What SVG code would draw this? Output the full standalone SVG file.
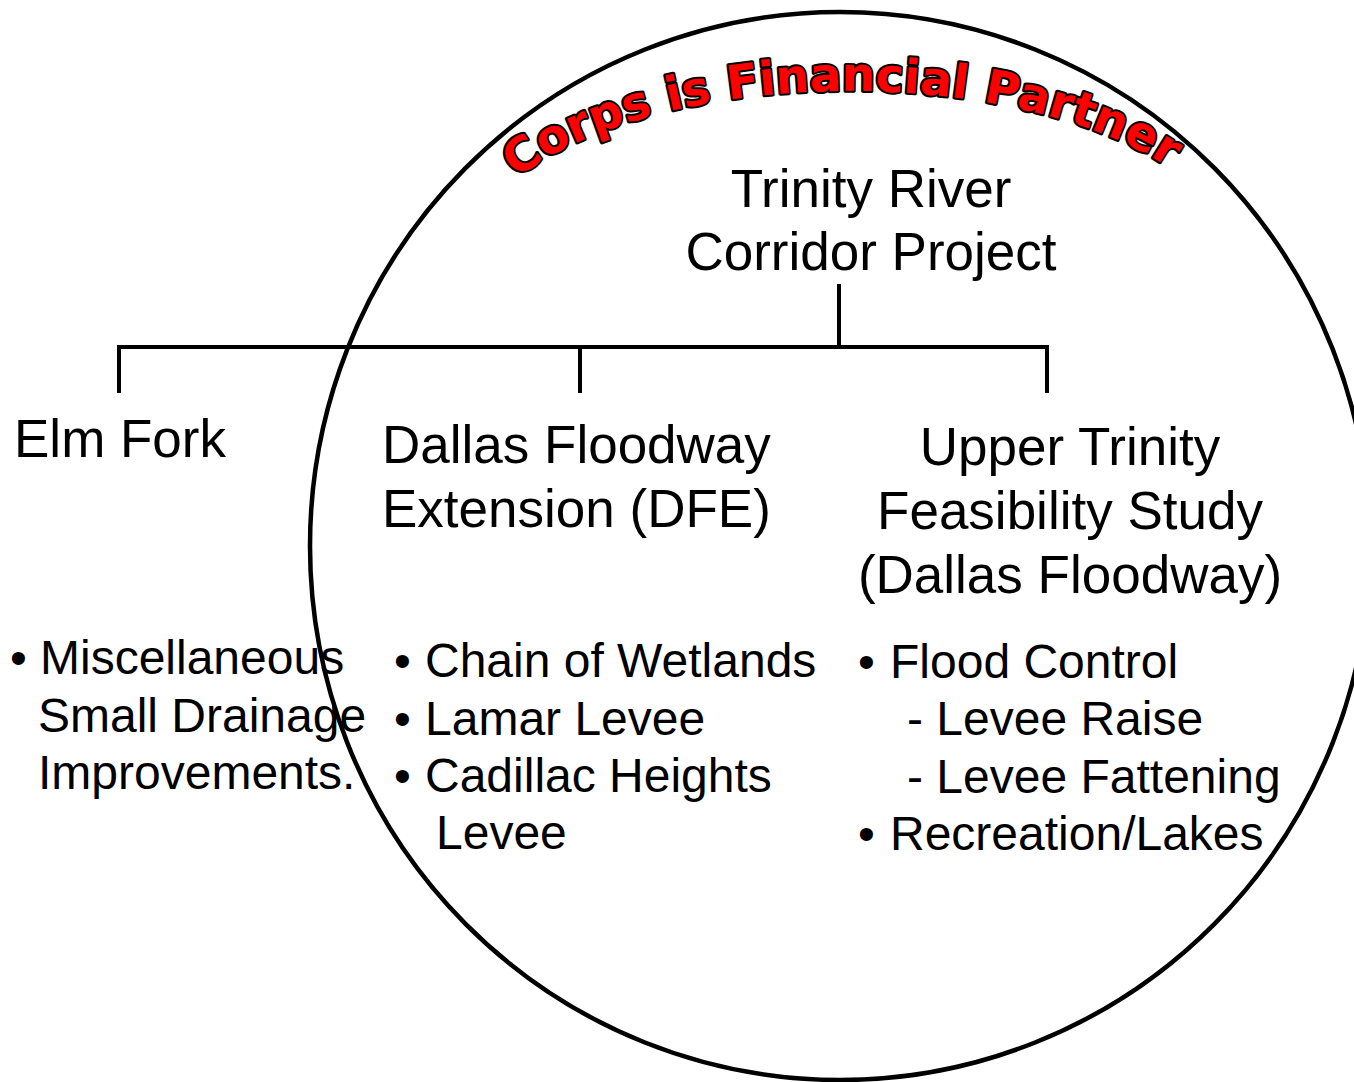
<svg xmlns="http://www.w3.org/2000/svg" xmlns:xlink="http://www.w3.org/1999/xlink" width="1354" height="1082" viewBox="0 0 1354 1082">
<style>
.t{font-family:"Liberation Sans",Arial,sans-serif;fill:#000}
.h{font-size:53px}
.b{font-size:48px}
.c{text-anchor:middle}
.ln{stroke:#000;stroke-width:4;fill:none}
.arch{font-family:"DejaVu Sans",sans-serif;font-weight:bold;font-size:47px;fill:#ff0000;stroke:#000;stroke-width:4;stroke-linejoin:round;paint-order:stroke fill}
</style>
<defs>
<path id="archPath" d="M 470,260 A 380 169 0 0 1 1230,260"/>
</defs>
<rect width="1354" height="1082" fill="#fff"/>
<ellipse cx="840" cy="546" rx="530" ry="534" fill="none" stroke="#000" stroke-width="4.5"/>
<g id="banner">
<text class="arch"><textPath xlink:href="#archPath" href="#archPath" startOffset="49%" text-anchor="middle">Corps is Financial Partner</textPath></text>
</g>
<g id="connectors">
<line class="ln" x1="839" y1="284" x2="839" y2="347"/>
<line class="ln" x1="117" y1="347" x2="1049" y2="347"/>
<line class="ln" x1="119" y1="345" x2="119" y2="393"/>
<line class="ln" x1="580" y1="345" x2="580" y2="393"/>
<line class="ln" x1="1047" y1="345" x2="1047" y2="393"/>
</g>
<g id="root">
<text class="t h c" x="871" y="207">Trinity River</text>
<text class="t h c" x="871" y="270">Corridor Project</text>
</g>
<g id="elm-fork">
<text class="t h" x="14" y="457">Elm Fork</text>
<text class="t b" x="10" y="674">•</text>
<text class="t b" x="40" y="674">Miscellaneous</text>
<text class="t b" x="38" y="732">Small Drainage</text>
<text class="t b" x="38" y="789">Improvements.</text>
</g>
<g id="dfe">
<text class="t h" x="382" y="463">Dallas Floodway</text>
<text class="t h" x="382" y="527">Extension (DFE)</text>
<text class="t b" x="394" y="677">•</text>
<text class="t b" x="425" y="677">Chain of Wetlands</text>
<text class="t b" x="394" y="735">•</text>
<text class="t b" x="425" y="735">Lamar Levee</text>
<text class="t b" x="394" y="792">•</text>
<text class="t b" x="425" y="792">Cadillac Heights</text>
<text class="t b" x="436" y="849">Levee</text>
</g>
<g id="upper-trinity">
<text class="t h c" x="1070" y="465">Upper Trinity</text>
<text class="t h c" x="1070" y="529">Feasibility Study</text>
<text class="t h c" x="1070" y="593">(Dallas Floodway)</text>
<text class="t b" x="858" y="678">•</text>
<text class="t b" x="890" y="678">Flood Control</text>
<text class="t b" x="907" y="735">- Levee Raise</text>
<text class="t b" x="907" y="793">- Levee Fattening</text>
<text class="t b" x="858" y="850">•</text>
<text class="t b" x="890" y="850">Recreation/Lakes</text>
</g>
</svg>
